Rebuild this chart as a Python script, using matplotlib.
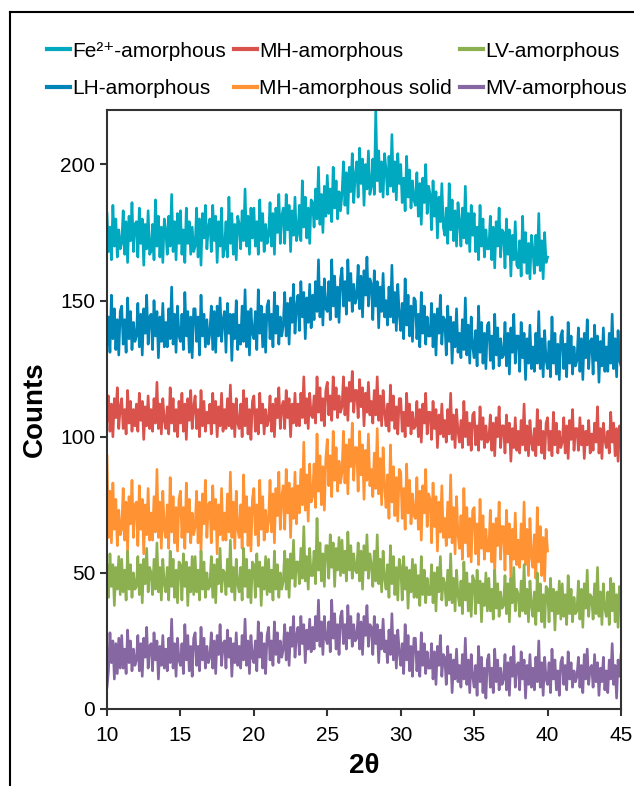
import numpy as np
import matplotlib.pyplot as plt
from matplotlib.lines import Line2D

plt.rcParams['font.family'] = ['Liberation Sans', 'DejaVu Sans']

# 2-theta grids (degrees), 0.1 step; each row of values below is one degree
two_theta_long = np.linspace(10, 45, 351)
two_theta_short = np.linspace(10, 40, 301)

fe2_amorphous = [
    182, 168, 177, 165, 185, 170, 180, 166, 176, 169,
    171, 183, 167, 179, 164, 181, 172, 186, 168, 178,
    179, 166, 184, 171, 180, 163, 178, 169, 183, 167,
    168, 178, 165, 187, 170, 181, 166, 177, 164, 180,
    176, 167, 181, 170, 189, 168, 179, 165, 182, 171,
    183, 167, 176, 164, 184, 171, 179, 167, 177, 168,
    170, 184, 166, 180, 163, 182, 173, 185, 169, 177,
    180, 168, 185, 172, 181, 164, 179, 170, 184, 166,
    169, 179, 166, 188, 171, 182, 167, 178, 165, 181,
    178, 169, 183, 172, 191, 170, 181, 167, 184, 173,
    184, 170, 179, 167, 187, 172, 182, 168, 178, 171,
    174, 186, 170, 182, 167, 184, 175, 189, 171, 181,
    184, 171, 189, 176, 185, 168, 183, 174, 188, 172,
    175, 185, 172, 194, 177, 188, 173, 184, 171, 187,
    186, 177, 191, 180, 199, 178, 189, 175, 192, 181,
    196, 182, 191, 179, 199, 184, 194, 180, 190, 183,
    189, 201, 185, 197, 182, 199, 190, 204, 186, 196,
    201, 188, 206, 193, 202, 185, 200, 191, 205, 189,
    192, 202, 189, 220, 194, 205, 190, 201, 188, 204,
    198, 189, 203, 192, 211, 190, 201, 187, 204, 193,
    200, 186, 195, 183, 203, 188, 198, 184, 194, 187,
    185, 197, 181, 193, 178, 195, 186, 200, 182, 192,
    189, 176, 194, 181, 190, 173, 188, 179, 193, 177,
    174, 184, 171, 193, 176, 187, 172, 183, 170, 186,
    179, 170, 184, 173, 192, 171, 182, 168, 185, 174,
    182, 168, 177, 165, 185, 170, 180, 166, 176, 169,
    169, 181, 165, 177, 162, 179, 170, 184, 166, 176,
    175, 162, 180, 167, 176, 159, 174, 165, 179, 163,
    162, 172, 159, 181, 164, 175, 160, 171, 158, 174,
    169, 160, 174, 163, 182, 161, 172, 158, 175, 164,
    166,
]

lh_amorphous = [
    134, 144, 131, 152, 136, 147, 132, 143, 130, 146,
    148, 134, 143, 131, 151, 136, 146, 132, 142, 135,
    137, 149, 133, 145, 130, 147, 138, 152, 134, 144,
    145, 132, 150, 137, 146, 129, 144, 135, 149, 133,
    142, 133, 147, 136, 155, 134, 145, 131, 148, 137,
    135, 145, 132, 153, 137, 146, 131, 144, 129, 147,
    147, 135, 144, 130, 152, 137, 145, 133, 143, 134,
    138, 148, 132, 146, 131, 148, 137, 151, 135, 143,
    146, 131, 149, 138, 145, 128, 145, 136, 150, 132,
    141, 134, 148, 135, 154, 133, 146, 130, 147, 138,
    136, 146, 132, 154, 138, 148, 133, 145, 131, 148,
    150, 136, 145, 133, 153, 138, 148, 134, 144, 137,
    141, 153, 137, 149, 134, 151, 142, 156, 138, 148,
    152, 139, 157, 144, 153, 136, 151, 142, 156, 140,
    152, 143, 157, 146, 165, 144, 155, 141, 158, 147,
    146, 157, 143, 165, 148, 159, 144, 155, 142, 158,
    162, 148, 157, 145, 165, 150, 160, 146, 156, 149,
    151, 163, 147, 159, 144, 161, 152, 166, 148, 158,
    156, 143, 161, 148, 157, 140, 155, 146, 160, 144,
    150, 141, 155, 144, 163, 142, 153, 139, 156, 145,
    139, 149, 136, 158, 141, 152, 137, 148, 135, 151,
    150, 136, 145, 133, 153, 138, 148, 134, 144, 137,
    137, 149, 133, 145, 130, 147, 138, 152, 134, 144,
    143, 130, 148, 135, 144, 127, 142, 133, 147, 131,
    138, 129, 143, 132, 151, 130, 141, 127, 144, 133,
    129, 139, 126, 148, 131, 142, 127, 138, 125, 141,
    142, 128, 137, 125, 145, 130, 140, 126, 136, 129,
    130, 142, 126, 138, 123, 140, 131, 145, 127, 137,
    137, 124, 142, 129, 138, 121, 136, 127, 141, 125,
    133, 124, 138, 127, 146, 125, 136, 122, 139, 128,
    125, 135, 122, 144, 127, 138, 123, 134, 121, 137,
    139, 125, 134, 122, 142, 127, 137, 123, 133, 126,
    128, 140, 124, 136, 121, 138, 129, 143, 125, 135,
    136, 123, 141, 128, 137, 120, 135, 126, 140, 124,
    133, 124, 138, 127, 145, 125, 136, 122, 139, 128,
    126,
]

mh_amorphous = [
    106, 115, 102, 112, 100, 114, 107, 118, 103, 111,
    114, 103, 110, 101, 117, 105, 113, 102, 110, 104,
    112, 102, 116, 106, 113, 99, 111, 104, 115, 103,
    110, 102, 114, 105, 120, 103, 112, 101, 114, 106,
    103, 111, 101, 118, 105, 114, 102, 110, 100, 113,
    105, 116, 102, 112, 99, 114, 106, 117, 103, 111,
    115, 103, 110, 100, 117, 104, 113, 102, 109, 105,
    112, 101, 116, 105, 113, 100, 111, 104, 116, 102,
    110, 103, 114, 104, 119, 103, 112, 100, 114, 105,
    103, 112, 100, 117, 104, 114, 101, 110, 99, 113,
    115, 102, 110, 101, 116, 105, 112, 101, 110, 104,
    106, 115, 102, 112, 100, 114, 107, 118, 103, 111,
    113, 103, 117, 107, 114, 100, 112, 105, 116, 104,
    112, 104, 116, 107, 122, 105, 114, 103, 116, 108,
    107, 115, 105, 122, 109, 118, 106, 114, 104, 117,
    120, 108, 115, 106, 122, 110, 118, 107, 115, 109,
    111, 122, 108, 118, 106, 120, 113, 124, 109, 117,
    117, 107, 121, 111, 118, 104, 116, 109, 120, 108,
    113, 105, 117, 108, 122, 106, 115, 104, 117, 109,
    104, 112, 102, 119, 106, 115, 103, 111, 101, 114,
    114, 102, 109, 100, 116, 104, 112, 101, 109, 103,
    104, 113, 100, 110, 98, 112, 105, 116, 101, 109,
    109, 99, 113, 103, 110, 96, 108, 101, 112, 100,
    106, 98, 110, 101, 116, 99, 108, 96, 110, 102,
    98, 106, 96, 113, 100, 109, 97, 105, 95, 108,
    109, 97, 104, 95, 111, 99, 107, 96, 104, 98,
    99, 108, 95, 105, 93, 107, 100, 111, 96, 104,
    104, 94, 108, 98, 105, 91, 103, 96, 107, 95,
    102, 94, 106, 97, 112, 95, 104, 93, 106, 98,
    95, 103, 93, 110, 97, 106, 94, 102, 92, 105,
    107, 95, 102, 93, 109, 97, 105, 94, 102, 96,
    98, 107, 94, 104, 92, 106, 99, 110, 95, 103,
    103, 95, 107, 97, 104, 92, 102, 97, 106, 94,
    101, 95, 105, 98, 111, 94, 103, 92, 105, 99,
    96, 102, 94, 109, 98, 105, 93, 103, 91, 104,
    99,
]

mh_amorphous_solid = [
    93, 63, 80, 61, 83, 66, 77, 60, 73, 64,
    66, 81, 62, 76, 58, 78, 68, 84, 63, 75,
    76, 60, 82, 66, 77, 57, 75, 64, 81, 62,
    72, 62, 78, 65, 88, 63, 76, 59, 80, 66,
    63, 75, 59, 85, 65, 78, 61, 74, 58, 77,
    80, 63, 74, 59, 83, 65, 77, 61, 72, 64,
    67, 80, 61, 76, 58, 79, 68, 84, 63, 75,
    76, 61, 82, 66, 77, 57, 75, 64, 81, 62,
    72, 62, 79, 65, 87, 63, 76, 59, 80, 66,
    63, 75, 59, 86, 65, 78, 60, 74, 58, 77,
    81, 64, 75, 60, 84, 66, 78, 62, 73, 65,
    69, 84, 65, 79, 61, 81, 71, 87, 66, 78,
    82, 66, 88, 72, 83, 63, 81, 70, 87, 68,
    82, 72, 88, 75, 98, 73, 86, 69, 90, 76,
    78, 90, 74, 101, 80, 93, 75, 89, 73, 92,
    99, 82, 93, 78, 102, 84, 96, 80, 91, 83,
    87, 102, 83, 97, 79, 99, 89, 105, 84, 96,
    96, 80, 102, 86, 97, 77, 95, 84, 101, 82,
    88, 78, 94, 81, 103, 79, 92, 75, 96, 82,
    74, 86, 70, 97, 76, 89, 71, 85, 69, 88,
    87, 70, 81, 66, 90, 72, 84, 68, 79, 71,
    70, 85, 66, 80, 62, 82, 72, 88, 67, 79,
    77, 61, 83, 67, 78, 58, 76, 65, 82, 63,
    70, 60, 76, 63, 86, 61, 74, 57, 78, 64,
    59, 71, 55, 81, 61, 74, 56, 70, 54, 73,
    74, 57, 68, 53, 77, 59, 71, 55, 66, 58,
    58, 73, 54, 68, 50, 70, 60, 76, 55, 67,
    67, 51, 73, 57, 68, 48, 66, 55, 72, 53,
    62, 52, 68, 55, 76, 53, 66, 49, 70, 56,
    52, 64, 48, 74, 54, 67, 49, 63, 47, 66,
    58,
]

lv_amorphous = [
    53, 41, 57, 45, 53, 38, 52, 44, 56, 42,
    55, 43, 51, 40, 58, 44, 53, 41, 50, 44,
    45, 56, 42, 53, 39, 55, 46, 59, 43, 52,
    50, 42, 55, 44, 61, 43, 52, 40, 55, 46,
    43, 52, 40, 58, 45, 55, 41, 51, 39, 54,
    53, 40, 57, 45, 54, 38, 52, 43, 56, 42,
    56, 43, 51, 40, 58, 44, 54, 41, 50, 44,
    45, 56, 41, 53, 39, 55, 46, 59, 43, 51,
    50, 42, 55, 45, 62, 43, 52, 40, 55, 46,
    43, 52, 40, 59, 45, 55, 41, 51, 39, 54,
    53, 41, 57, 45, 54, 38, 52, 44, 56, 42,
    55, 43, 51, 40, 58, 44, 53, 41, 50, 44,
    47, 58, 44, 55, 41, 57, 48, 62, 45, 54,
    54, 46, 59, 48, 67, 47, 56, 44, 59, 49,
    49, 58, 46, 70, 51, 61, 47, 57, 45, 60,
    60, 48, 64, 52, 61, 45, 59, 51, 63, 49,
    62, 50, 58, 47, 65, 51, 60, 48, 57, 51,
    50, 61, 47, 58, 44, 60, 51, 64, 48, 57,
    53, 45, 58, 47, 64, 46, 55, 43, 58, 48,
    44, 53, 41, 60, 46, 56, 42, 52, 40, 55,
    52, 40, 56, 44, 52, 37, 51, 43, 55, 41,
    53, 41, 49, 38, 56, 42, 51, 39, 48, 42,
    42, 53, 39, 50, 36, 52, 43, 56, 40, 48,
    46, 38, 51, 40, 57, 39, 48, 36, 51, 42,
    38, 47, 35, 54, 40, 50, 36, 46, 34, 49,
    47, 35, 51, 39, 47, 32, 46, 38, 50, 36,
    48, 36, 44, 33, 51, 37, 46, 34, 43, 37,
    38, 49, 35, 46, 32, 48, 39, 52, 36, 44,
    42, 34, 47, 36, 53, 35, 44, 32, 47, 38,
    34, 43, 31, 50, 36, 46, 32, 42, 30, 45,
    44, 32, 48, 36, 44, 29, 43, 35, 47, 33,
    46, 34, 42, 31, 49, 35, 44, 32, 41, 35,
    36, 47, 33, 44, 30, 46, 37, 51, 34, 42,
    41, 33, 46, 35, 52, 34, 43, 31, 46, 37,
    34, 43, 31, 48, 36, 46, 32, 42, 30, 45,
    42,
]

mv_amorphous = [
    8, 14, 28, 17, 25, 11, 24, 13, 26, 15,
    27, 15, 22, 13, 29, 17, 25, 14, 22, 16,
    18, 27, 14, 24, 12, 26, 19, 30, 15, 23,
    24, 14, 28, 18, 25, 11, 23, 16, 27, 15,
    22, 14, 26, 17, 33, 15, 24, 12, 26, 18,
    16, 24, 13, 31, 18, 27, 14, 23, 12, 26,
    28, 16, 23, 14, 30, 18, 26, 15, 23, 17,
    19, 28, 15, 25, 13, 27, 20, 31, 16, 24,
    25, 15, 29, 19, 26, 12, 24, 17, 28, 16,
    23, 15, 27, 18, 33, 16, 25, 13, 27, 19,
    17, 25, 14, 32, 19, 28, 15, 24, 13, 27,
    30, 18, 25, 16, 32, 20, 28, 17, 25, 19,
    22, 31, 18, 28, 16, 30, 23, 34, 19, 27,
    30, 20, 34, 24, 31, 17, 29, 22, 33, 21,
    30, 22, 34, 25, 40, 23, 32, 20, 34, 26,
    24, 32, 21, 40, 26, 35, 22, 31, 20, 34,
    36, 24, 31, 22, 38, 26, 34, 23, 31, 25,
    26, 35, 22, 32, 20, 34, 27, 38, 23, 31,
    30, 20, 34, 24, 31, 17, 29, 22, 33, 21,
    25, 17, 29, 20, 35, 18, 27, 15, 29, 21,
    16, 24, 13, 31, 18, 27, 14, 23, 12, 26,
    26, 14, 21, 12, 28, 16, 24, 13, 21, 15,
    15, 24, 11, 21, 9, 23, 16, 27, 12, 20,
    19, 9, 23, 13, 20, 6, 18, 11, 22, 10,
    16, 8, 20, 11, 26, 9, 18, 6, 20, 12,
    8, 16, 5, 23, 10, 19, 6, 15, 4, 18,
    20, 8, 15, 6, 22, 10, 18, 7, 15, 9,
    11, 20, 7, 17, 5, 19, 12, 23, 8, 16,
    17, 7, 21, 11, 18, 4, 16, 9, 20, 8,
    15, 7, 19, 10, 25, 8, 17, 5, 19, 11,
    9, 17, 6, 22, 11, 18, 7, 14, 5, 17,
    19, 9, 16, 7, 21, 11, 17, 8, 14, 10,
    12, 19, 8, 16, 6, 20, 11, 22, 9, 15,
    16, 8, 20, 10, 17, 5, 15, 10, 19, 7,
    14, 6, 18, 11, 24, 9, 16, 4, 18, 12,
    20,
]

series = [
    ('Fe\u00b2\u207a-amorphous', two_theta_short, fe2_amorphous, '#00a9bf'),
    ('LH-amorphous', two_theta_long, lh_amorphous, '#0085b9'),
    ('MH-amorphous', two_theta_long, mh_amorphous, '#d9524c'),
    ('MH-amorphous solid', two_theta_short, mh_amorphous_solid, '#ff9233'),
    ('LV-amorphous', two_theta_long, lv_amorphous, '#8cb050'),
    ('MV-amorphous', two_theta_long, mv_amorphous, '#8667a1'),
]

fig = plt.figure(figsize=(6.34, 7.86), dpi=100)
ax = fig.add_axes([0.1688, 0.098, 0.8107, 0.762])

for label, x, y, color in series:
    ax.plot(x, y, color=color, lw=1.9, label=label)

ax.set_xlim(10, 45)
ax.set_ylim(0, 220)
ax.set_xticks(np.arange(10, 46, 5))
ax.set_yticks(np.arange(0, 201, 50))
ax.tick_params(direction='out', length=5, width=1.5, labelsize=15, color='#333333')
ax.tick_params(axis='x', pad=7)
for side in ax.spines.values():
    side.set_linewidth(1.5)
    side.set_color('#333333')

ax.set_xlabel('2θ', fontsize=20, fontweight='bold', labelpad=6)
ax.set_ylabel('Counts', fontsize=20, fontweight='bold', labelpad=9)

leg = fig.legend(loc='upper left', bbox_to_anchor=(47 / 634, 0.947), ncol=3,
                 frameon=False, fontsize=15, handlelength=1.1, borderpad=0,
                 borderaxespad=0, handletextpad=0.1, columnspacing=0.4,
                 labelspacing=0.9)
for h in leg.legend_handles:
    h.set_linewidth(3)

# outer frame around the figure
fig.add_artist(Line2D([0.0158, 0.0158], [0.0, 0.9847], transform=fig.transFigure,
                      color='black', lw=1.5))
fig.add_artist(Line2D([0.0158, 1.0], [0.9847, 0.9847], transform=fig.transFigure,
                      color='black', lw=1.5))

fig.savefig('out.png', dpi=100)
